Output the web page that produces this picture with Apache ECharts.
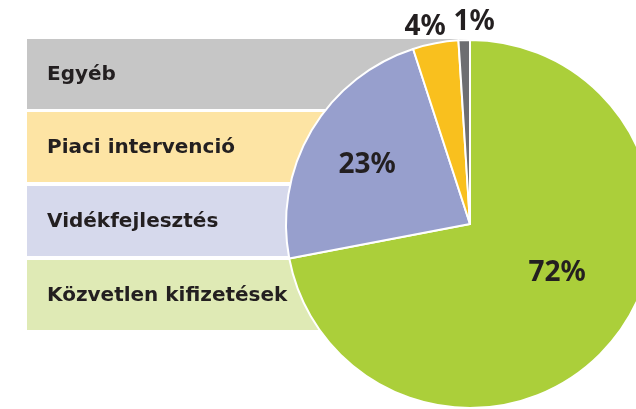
<!DOCTYPE html>
<html>
<head>
<meta charset="utf-8">
<script src="https://cdn.jsdelivr.net/npm/echarts@6/dist/echarts.min.js"></script>
<style>
  html, body { margin: 0; padding: 0; background: #fff; }
  #main { width: 636px; height: 409px; }
</style>
</head>
<body>
<div id="main"></div>
<script>
var chartDom = document.getElementById('main');
var myChart = echarts.init(chartDom);
var option;

// adatok (óramutató járásával egyezően, 12 órától)
var categories = ['Közvetlen kifizetések', 'Vidékfejlesztés', 'Piaci intervenció', 'Egyéb'];
var values = [72, 23, 4, 1];
var sliceColors = ['#abcf3a', '#979fcd', '#f9c01e', '#6d6e71'];
var boxColors = ['#dfeab5', '#d6d9ec', '#fde4a4', '#c6c6c6'];
// címke eltolás a belső pozícióhoz képest
var labelOffsets = [[14, -12], [-21, -11], [-27, -104], [7, -107]];

// bal oldali sávok (felülről lefelé: Egyéb ... Közvetlen kifizetések)
var boxTops = [39, 112, 186, 260];
var graphics = [];
for (var i = 0; i < categories.length; i++) {
  var idx = categories.length - 1 - i;
  graphics.push({
    type: 'rect',
    z: 0,
    shape: { x: 27, y: boxTops[i], width: 443, height: 70 },
    style: { fill: boxColors[idx] }
  });
  graphics.push({
    type: 'text',
    z: 1,
    x: 47,
    y: boxTops[i] + 36,
    style: {
      text: categories[idx],
      fill: '#231f20',
      font: 'bold 20px "DejaVu Sans", sans-serif',
      verticalAlign: 'middle'
    }
  });
}

var pieData = categories.map(function (c, i) {
  return {
    name: c,
    value: values[i],
    itemStyle: { color: sliceColors[i] },
    label: { offset: labelOffsets[i] }
  };
});

option = {
  animation: false,
  graphic: graphics,
  series: [
    {
      type: 'pie',
      z: 5,
      center: [470, 224],
      radius: [0, 184],
      startAngle: 90,
      clockwise: true,
      data: pieData,
      itemStyle: { borderColor: '#fff', borderWidth: 2 },
      label: {
        position: 'inside',
        formatter: '{c}%',
        color: '#231f20',
        fontSize: 28,
        fontWeight: 'bold',
        fontFamily: '"Noto Sans", sans-serif'
      },
      labelLine: { show: false },
      emphasis: { disabled: true }
    }
  ]
};

option && myChart.setOption(option);
</script>
</body>
</html>
